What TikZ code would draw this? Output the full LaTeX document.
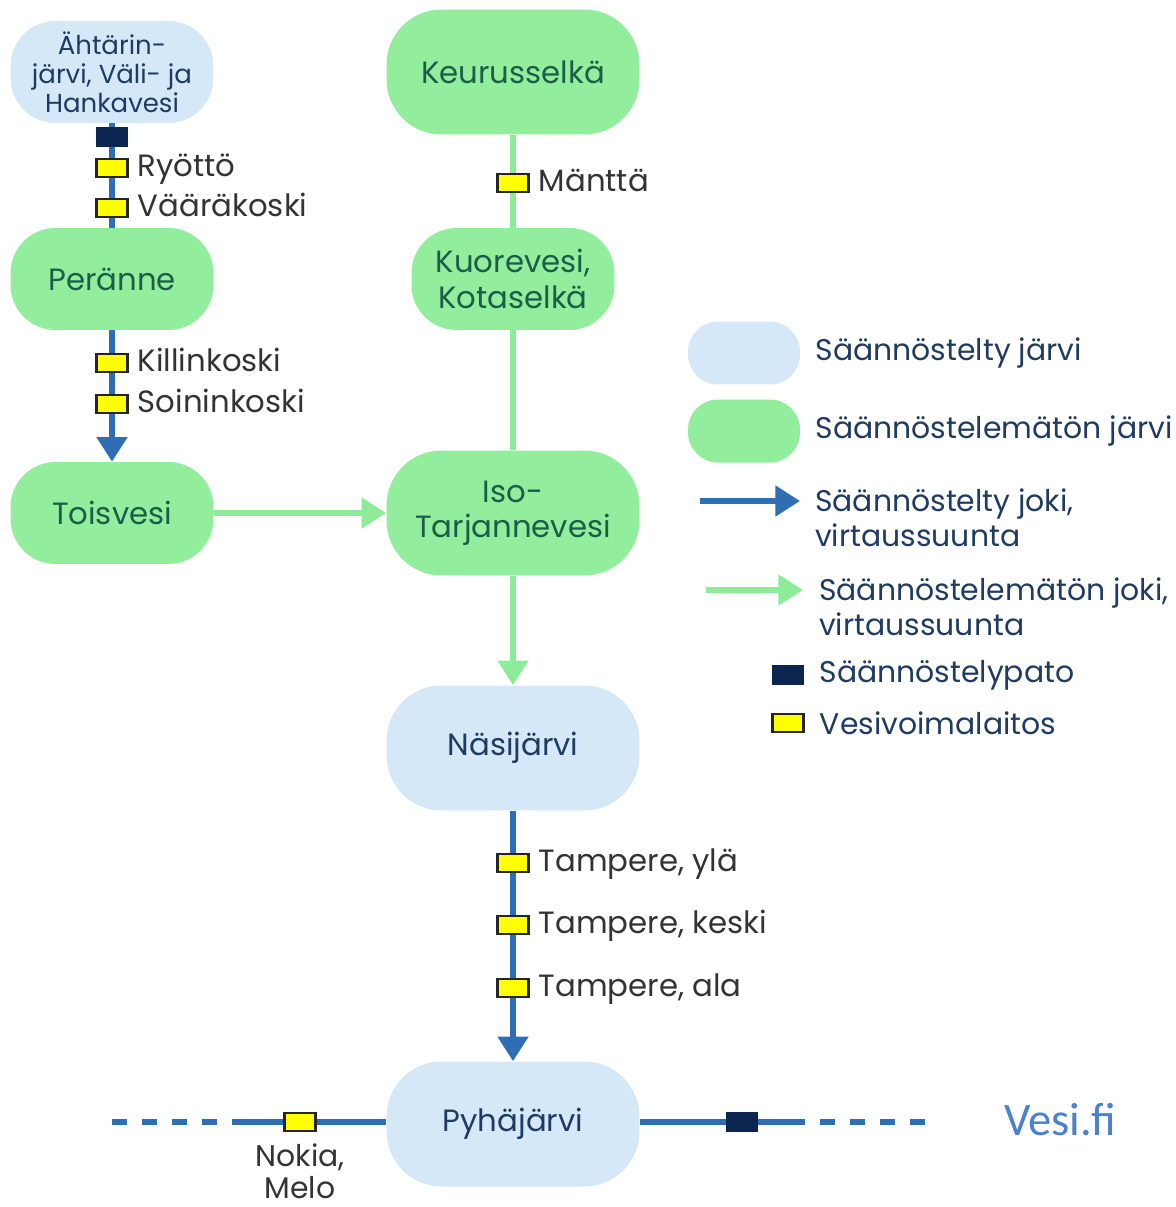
\documentclass[tikz,border=0pt]{standalone}
\usepackage{fontspec}
\setmainfont{Poppins}
\newfontfamily\vesifont{Carlito}
\usetikzlibrary{arrows.meta,positioning}
\definecolor{reg-blue}{HTML}{D4E8F8}
\definecolor{free-green}{HTML}{92EE9C}
\definecolor{river-blue}{HTML}{2F6DB5}
\definecolor{river-green}{HTML}{8EEB98}
\definecolor{dam-navy}{HTML}{0C2450}
\definecolor{plant-yellow}{HTML}{FFFF00}
\definecolor{name-navy}{HTML}{1F3B62}
\definecolor{name-green}{HTML}{1B5E48}
\definecolor{label-gray}{HTML}{333333}
\definecolor{vesi-blue}{HTML}{4A80CC}
\tikzset{
    lake/.style = {rectangle, rounded corners=0.9cm, align=center, inner sep=0pt, font=\fontsize{17.5}{20}\selectfont},
    lake-reg/.style = {lake, fill=reg-blue, text=name-navy},
    lake-free/.style = {lake, fill=free-green, text=name-green},
    lake-big/.style = {minimum width=5.06cm, minimum height=2.5cm, rounded corners=1.1cm},
    lake-small/.style = {minimum width=4.06cm, minimum height=2.04cm},
    lake-key/.style = {minimum width=2.24cm, minimum height=1.26cm, rounded corners=0.6cm},
    river-reg/.style = {draw=river-blue, line width=3pt},
    river-free/.style = {draw=river-green, line width=3pt},
    river-dash/.style = {dash pattern=on 0.3cm off 0.3cm},
    flow/.style = {-{Triangle[width=17pt,length=14pt]}},
    plant/.style = {rectangle, draw=black!85, fill=plant-yellow, line width=1.3pt, minimum width=0.62cm, minimum height=0.36cm, inner sep=0pt},
    dam/.style = {rectangle, fill=dam-navy, minimum width=0.64cm, minimum height=0.4cm, inner sep=0pt},
    station/.style = {text=label-gray, font=\fontsize{17.5}{20}\selectfont, text height=12pt, text depth=2.5pt},
    key-text/.style = {text=name-navy, align=left, anchor=west, font=\fontsize{17}{20}\selectfont},
}

\begin{document}
\begin{tikzpicture}[x=0.02cm, y=-0.02cm]
\useasboundingbox (0,0) rectangle (1176,1207);

\node[lake-reg, lake-small, font=\fontsize{14.8}{16.4}\selectfont] (ahtari) at (112,72) {Ähtärin-\\järvi, Väli- ja\\Hankavesi};
\node[lake-free, lake-small] (peranne) at (112,279) {Peränne};
\node[lake-free, lake-small] (toisvesi) at (112,513) {Toisvesi};
\node[lake-free, lake-big] (keurus) at (513,72) {Keurusselkä};
\node[lake-free, lake-small] (kuore) at (513,279) {Kuorevesi,\\Kotaselkä};
\node[lake-free, lake-big] (isot) at (513,513) {Iso-\\Tarjannevesi};
\node[lake-reg, lake-big] (nasi) at (513,748) {Näsijärvi};
\node[lake-reg, lake-big] (pyha) at (513,1124) {Pyhäjärvi};

\draw[river-reg] (ahtari) -- (peranne);
\draw[river-reg, flow] (peranne) -- (toisvesi);
\draw[river-free] (keurus) -- (kuore);
\draw[river-free] (kuore) -- (isot);
\draw[river-free, flow] (toisvesi) -- (isot);
\draw[river-free, flow] (isot) -- (nasi);
\draw[river-reg, flow] (nasi) -- (pyha);

\coordinate (west-solid) at (232,1122);
\coordinate (west-end) at (112,1122);
\coordinate (east-solid) at (805,1122);
\coordinate (east-dash) at (820,1122);
\coordinate (east-end) at (930,1122);
\draw[river-reg] (pyha.west |- west-solid) -- (west-solid);
\draw[river-reg, river-dash] (west-end) -- (west-solid);
\draw[river-reg] (pyha.east |- east-solid) -- (east-solid);
\draw[river-reg, river-dash] (east-dash) -- (east-end);

\node[dam] (ahtari-dam) at (112,137) {};
\node[plant] (ryotto) at (112,168) {};
\node[station, right=0.06cm of ryotto] (ryotto-text) {Ryöttö};
\node[plant] (vaara) at (112,208) {};
\node[station, right=0.06cm of vaara] (vaara-text) {Vääräkoski};
\node[plant] (killin) at (112,363) {};
\node[station, right=0.06cm of killin] (killin-text) {Killinkoski};
\node[plant] (soinin) at (112,404) {};
\node[station, right=0.06cm of soinin] (soinin-text) {Soininkoski};
\node[plant] (mantta) at (513,183) {};
\node[station, right=0.06cm of mantta] (mantta-text) {Mänttä};
\node[plant] (tre-yla) at (513,863) {};
\node[station, right=0.06cm of tre-yla] (tre-yla-text) {Tampere, ylä};
\node[plant] (tre-keski) at (513,925) {};
\node[station, right=0.06cm of tre-keski] (tre-keski-text) {Tampere, keski};
\node[plant] (tre-ala) at (513,988) {};
\node[station, right=0.06cm of tre-ala] (tre-ala-text) {Tampere, ala};
\node[plant] (nokia) at (300,1122) {};
\node[station, align=center, text height=, text depth=, font=\fontsize{17}{18.7}\selectfont, below=0.1cm of nokia] (nokia-text) {Nokia,\\Melo};
\node[dam] (pyha-dam) at (742,1122) {};

\node[lake-reg, lake-key] (key-reg) at (744,353) {};
\node[key-text, right=0.18cm of key-reg] (key-reg-text) {Säännöstelty järvi};
\node[lake-free, lake-key] (key-free) at (744,431) {};
\node[key-text, right=0.18cm of key-free] (key-free-text) {Säännöstelemätön järvi};
\coordinate (key-blue-start) at (700,501);
\coordinate (key-blue-end) at (800,501);
\draw[river-reg, flow] (key-blue-start) -- (key-blue-end);
\node[key-text] (key-blue-text) at (809,518) {Säännöstelty joki,\\virtaussuunta};
\coordinate (key-green-start) at (706,590);
\coordinate (key-green-end) at (803,590);
\draw[river-free, flow] (key-green-start) -- (key-green-end);
\node[key-text] (key-green-text) at (813,607) {Säännöstelemätön joki,\\virtaussuunta};
\node[dam] (key-dam) at (788,675) {};
\node[key-text, right=0.18cm of key-dam] (key-dam-text) {Säännöstelypato};
\node[plant] (key-plant) at (788,723) {};
\node[key-text, right=0.18cm of key-plant] (key-plant-text) {Vesivoimalaitos};

\node[text=vesi-blue, font=\vesifont\fontsize{26.5}{30}\selectfont] (vesi) at (1060,1120) {Vesi.fi};
\end{tikzpicture}
\end{document}
